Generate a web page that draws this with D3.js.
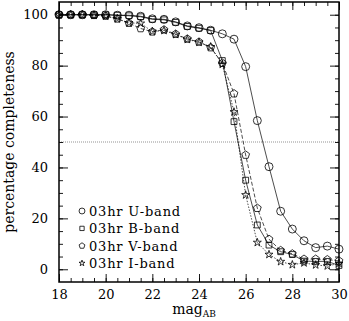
<!DOCTYPE html>
<html>
<head>
<meta charset="utf-8">
<script src="https://cdn.jsdelivr.net/npm/d3@7"></script>
<style>
  body { margin: 0; background: #fff; }
  svg { display: block; }
  text { font-family: "DejaVu Serif", serif; fill: #000; }
</style>
</head>
<body>
<svg id="viz"></svg>
<script>
// window sizing
var width = 349,
	height = 321;

// magnitude bins (0.5 mag steps)
var mags = [18, 18.5, 19, 19.5, 20, 20.5, 21, 21.5, 22, 22.5, 23, 23.5, 24,
	24.5, 25, 25.5, 26, 26.5, 27, 27.5, 28, 28.5, 29, 29.5, 30];

// completeness per band
var uBand = [100, 100, 100, 100, 100, 99.8, 99.8, 99.4, 98.4, 98.2, 97.2, 95.6, 94.9,
	93.9, 92.5, 90.4, 79.6, 58.4, 40.3, 22.8, 15.8, 11.2, 8.5, 9.1, 7.9];
var bBand = [100, 100, 100, 100, 100, 99.8, 99.6, 99.2, 98.2, 98.0, 97.0, 95.4, 94.7,
	93.8, 82.0, 58.0, 35.0, 17.4, 9.5, 6.9, 5.8, 3.2, 3.1, 3.1, 1.5];
var vBand = [100, 100, 100, 99.8, 99.5, 98.4, 96.7, 94.6, 93.3, 94.1, 92.4, 90.5, 89.3,
	87.1, 81.0, 69.0, 44.9, 24.0, 11.8, 7.4, 6.1, 4.0, 4.0, 3.8, 3.3];
var iBand = [100, 100, 100, 99.8, 99.5, 98.4, 96.8, 96.6, 93.4, 93.8, 92.2, 90.3, 89.2,
	87.4, 80.5, 61.8, 29.2, 10.5, 5.8, 3.0, 1.8, 2.5, 1.7, 1.3, 2.3];

var legendLabels = ["03hr U-band", "03hr B-band", "03hr V-band", "03hr I-band"];
var xTicks = [18, 20, 22, 24, 26, 28, 30];
var yTicks = [0, 20, 40, 60, 80, 100];

// pentagon symbol (d3 has no built-in one)
var symbolPentagon = {
	draw: function(context, size) {
		var r = Math.sqrt(size / 2.378);
		for (var k = 0; k < 5; k++) {
			var a = -Math.PI / 2 + k * 2 * Math.PI / 5;
			if (k == 0) context.moveTo(r * Math.cos(a), r * Math.sin(a));
			else context.lineTo(r * Math.cos(a), r * Math.sin(a));
		}
		context.closePath();
	}
};

var series = [
	{ name: legendLabels[0], values: uBand, symbol: d3.symbolCircle, size: 50, dash: null },
	{ name: legendLabels[1], values: bBand, symbol: d3.symbolSquare, size: 34, dash: null },
	{ name: legendLabels[2], values: vBand, symbol: symbolPentagon, size: 40, dash: "4,2" },
	{ name: legendLabels[3], values: iBand, symbol: d3.symbolStar, size: 20, dash: "1.5,1.5" }
];

var margin = { left: 59, right: 10, top: 2, bottom: 39 };

var svg = d3.select("#viz").attr("width", width).attr("height", height);

var x = d3.scaleLinear().domain([18, 30]).range([margin.left, width - margin.right]);
var y = d3.scaleLinear().domain([-5, 105]).range([height - margin.bottom, margin.top]);

var x0 = x.range()[0], x1 = x.range()[1], y0 = y.range()[0], y1 = y.range()[1];

// 50% reference line
svg.append("line")
	.attr("x1", x0).attr("x2", x1)
	.attr("y1", y(50)).attr("y2", y(50))
	.attr("stroke", "#666").attr("stroke-width", 0.7)
	.attr("stroke-dasharray", "1,1");

// data lines
var line = d3.line()
	.x(function(d, i) { return x(mags[i]); })
	.y(function(d) { return y(d); });

series.forEach(function(s) {
	svg.append("path")
		.attr("d", line(s.values))
		.attr("fill", "none")
		.attr("stroke", "#000")
		.attr("stroke-width", 0.7)
		.attr("stroke-dasharray", s.dash);
});

// markers
series.forEach(function(s) {
	var sym = d3.symbol().type(s.symbol).size(s.size);
	svg.append("g").selectAll("path")
		.data(s.values)
		.enter()
		.append("path")
		.attr("d", sym)
		.attr("transform", function(d, i) { return "translate(" + x(mags[i]) + "," + y(d) + ")"; })
		.attr("fill", "none")
		.attr("stroke", "#000")
		.attr("stroke-width", 0.8);
});

// axes with inward ticks on all four sides
var bottomMajor = d3.axisBottom(x).tickValues(xTicks).tickSize(-8).tickPadding(8).tickFormat(d3.format("d"));
var bottomMinor = d3.axisBottom(x).tickValues(mags).tickSize(-4).tickFormat("");
var topMajor = d3.axisTop(x).tickValues(xTicks).tickSize(-8).tickFormat("");
var topMinor = d3.axisTop(x).tickValues(mags).tickSize(-4).tickFormat("");
var yMinorVals = d3.range(0, 101, 5);
var leftMajor = d3.axisLeft(y).tickValues(yTicks).tickSize(-9).tickPadding(11);
var leftMinor = d3.axisLeft(y).tickValues(yMinorVals).tickSize(-4).tickFormat("");
var rightMajor = d3.axisRight(y).tickValues(yTicks).tickSize(-9).tickFormat("");
var rightMinor = d3.axisRight(y).tickValues(yMinorVals).tickSize(-4).tickFormat("");

function addAxis(ax, tx, ty) {
	var g = svg.append("g").attr("transform", "translate(" + tx + "," + ty + ")").call(ax);
	g.select(".domain").remove();
	g.selectAll("line").attr("stroke", "#000").attr("stroke-width", 0.9);
	g.selectAll("text").style("font-family", "DejaVu Serif").style("font-size", "13px").attr("fill", "#000");
	return g;
}
addAxis(bottomMinor, 0, y0);
addAxis(bottomMajor, 0, y0);
addAxis(topMinor, 0, y1);
addAxis(topMajor, 0, y1);
addAxis(leftMinor, x0, 0);
addAxis(leftMajor, x0, 0);
addAxis(rightMinor, x1, 0);
addAxis(rightMajor, x1, 0);

// frame
svg.append("rect")
	.attr("x", x0).attr("y", y1)
	.attr("width", x1 - x0).attr("height", y0 - y1)
	.attr("fill", "none").attr("stroke", "#000").attr("stroke-width", 1.5);

// axis labels
var xl = svg.append("text")
	.attr("x", 194).attr("y", 314)
	.attr("text-anchor", "middle")
	.style("font-size", "14px");
xl.append("tspan").text("mag");
xl.append("tspan").attr("dy", 3).style("font-size", "9px").text("AB");

svg.append("text")
	.attr("transform", "translate(14," + ((y0 + y1) / 2) + ") rotate(-90)")
	.attr("text-anchor", "middle")
	.style("font-size", "14px")
	.text("percentage completeness");

// legend
var legend = svg.append("g").attr("class", "legend")
	.selectAll("g")
	.data(series)
	.enter()
	.append("g")
	.attr("transform", function(d, i) { return "translate(82," + (211 + i * 17.4) + ")"; });

legend.append("path")
	.attr("d", function(d) { return d3.symbol().type(d.symbol).size(d.size * 0.55)(); })
	.attr("fill", "none")
	.attr("stroke", "#000")
	.attr("stroke-width", 0.8);

legend.append("text")
	.attr("x", 7).attr("y", 5)
	.style("font-size", "13px")
	.style("letter-spacing", "0.8px")
	.text(function(d) { return d.name; });
</script>
</body>
</html>
